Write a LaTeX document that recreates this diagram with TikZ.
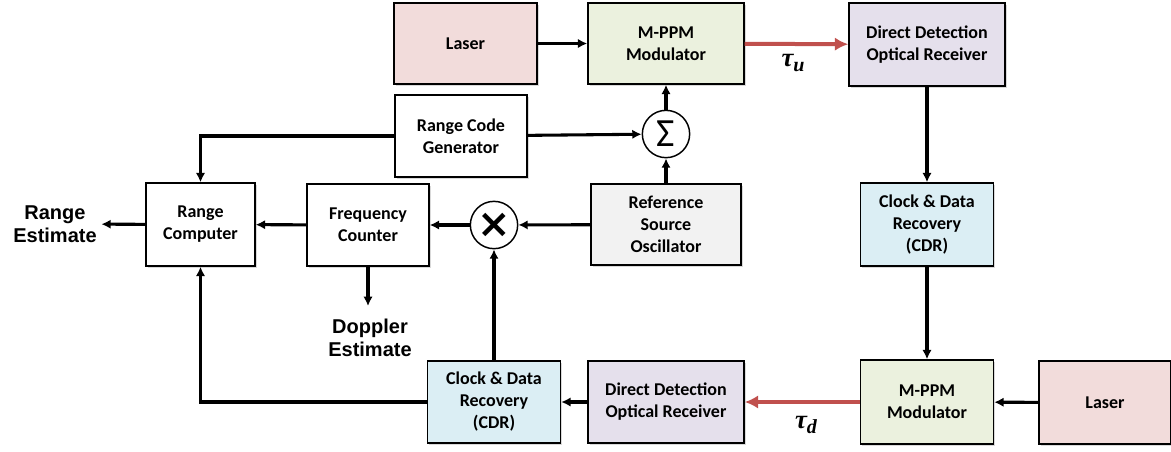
\documentclass[tikz,border=0pt]{standalone}
\usepackage{fontspec}
\setmainfont{Carlito}
\newfontfamily\arialfont{Liberation Sans}
\newfontfamily\dejavufont{DejaVu Sans}
\newfontfamily\delayfont{Liberation Serif}
\usetikzlibrary{arrows.meta,shadows}

\definecolor{laserpink}{HTML}{F2DCDB}
\definecolor{modgreen}{HTML}{EBF1DE}
\definecolor{rxlav}{HTML}{E5E0EC}
\definecolor{cdrblue}{HTML}{DBEEF4}
\definecolor{refgray}{HTML}{F2F2F2}
\definecolor{optred}{HTML}{C0504D}

\newcommand{\delaylabel}[1]{\delayfont\bfseries\itshape\fontsize{20}{20}\selectfont τ\raisebox{-0.35ex}{\fontsize{15}{15}\selectfont #1}}

\begin{document}
\begin{tikzpicture}[x=0.75pt,y=-0.75pt,
    >={Latex[length=7pt,width=7pt]},
    block/.style={draw, line width=1.1pt, fill=white, align=center,
        font=\fontsize{13.5}{16.5}\selectfont\bfseries,
        drop shadow={shadow xshift=1.2pt,shadow yshift=-1.2pt,opacity=0.3}},
    junction/.style={circle, draw, line width=1.1pt, fill=white,
        minimum size=35.5pt, inner sep=0pt},
    link/.style={->, line width=2.3pt},
    optlink/.style={-{Latex[length=10pt,width=10pt]}, line width=3pt, optred},
    estimate/.style={font=\arialfont\fontsize{15}{17.25}\selectfont\bfseries, align=center},
    delay/.style={inner sep=0pt}]

    \useasboundingbox (0,0) rectangle (1171,451);

    % Uplink chain (top row)
    \node[block, fill=laserpink, minimum width=107.25pt, minimum height=60.75pt] (laserU) at (465.5,43.5) {Laser};
    \node[block, fill=modgreen, minimum width=117pt, minimum height=60.75pt] (modU) at (666,43.5) {M-PPM\\Modulator};
    \node[block, fill=rxlav, minimum width=117pt, minimum height=62.25pt] (rxU) at (927,44.5) {Direct Detection\\Optical Receiver};

    % Transponder (right column)
    \node[block, fill=cdrblue, minimum width=99.75pt, minimum height=62.25pt] (cdrU) at (927,224.5) {Clock \& Data\\Recovery\\(CDR)};
    \node[block, fill=modgreen, minimum width=99.75pt, minimum height=63pt] (modD) at (927,402) {M-PPM\\Modulator};
    \node[block, fill=laserpink, minimum width=99pt, minimum height=62.25pt] (laserD) at (1105,402.5) {Laser};

    % Downlink chain (bottom row)
    \node[block, fill=rxlav, minimum width=117pt, minimum height=61.5pt] (rxD) at (666,402) {Direct Detection\\Optical Receiver};
    \node[block, fill=cdrblue, minimum width=99.75pt, minimum height=61.5pt] (cdrD) at (494,402) {Clock \& Data\\Recovery\\(CDR)};

    % Ranging section
    \node[block, minimum width=99pt, minimum height=61.5pt] (rcg) at (461,136) {Range Code\\Generator};
    \node[junction] (sum) at (666,134) {\fontsize{30}{30}\selectfont Σ};
    \node[block, fill=refgray, minimum width=112.5pt, minimum height=60.75pt] (ref) at (666,224.5) {Reference\\Source\\Oscillator};
    \node[junction] (mult) at (494,225) {\dejavufont\bfseries\fontsize{30}{30}\selectfont ×};
    \node[block, minimum width=91.5pt, minimum height=61.5pt] (fc) at (368,225) {Frequency\\Counter};
    \node[block, minimum width=81.75pt, minimum height=62.25pt] (rc) at (200.5,224.5) {Range\\Computer};

    % Outputs
    \node[estimate] (rangeEst) at (55,224) {Range\\Estimate};
    \node[estimate] (doppler) at (370,338) {Doppler\\Estimate};
    \coordinate (dopTip) at (368,306);

    % Delay labels
    \node[delay] (tauU) at (793,63) {\delaylabel{u}};
    \node[delay] (tauD) at (806,425) {\delaylabel{d}};

    % Connections
    \draw[link] (laserU) -- (modU);
    \draw[optlink] (modU) -- (rxU);
    \draw[link] (rxU) -- (cdrU);
    \draw[link] (cdrU) -- (modD);
    \draw[link] (laserD) -- (modD);
    \draw[optlink] (modD) -- (rxD);
    \draw[link] (rxD) -- (cdrD);
    \draw[link] (cdrD) -- (mult);
    \draw[link] (cdrD.west) -| (rc.south);
    \draw[link] (rcg.west) -| (rc.north);
    \draw[link] (rcg) -- (sum);
    \draw[link] (ref) -- (sum);
    \draw[link] (sum) -- (modU);
    \draw[link] (ref) -- (mult);
    \draw[link] (mult) -- (fc);
    \draw[link] (fc) -- (rc);
    \draw[link] (rc) -- (rangeEst);
    \draw[link] (fc.south) -- (dopTip);
\end{tikzpicture}
\end{document}
